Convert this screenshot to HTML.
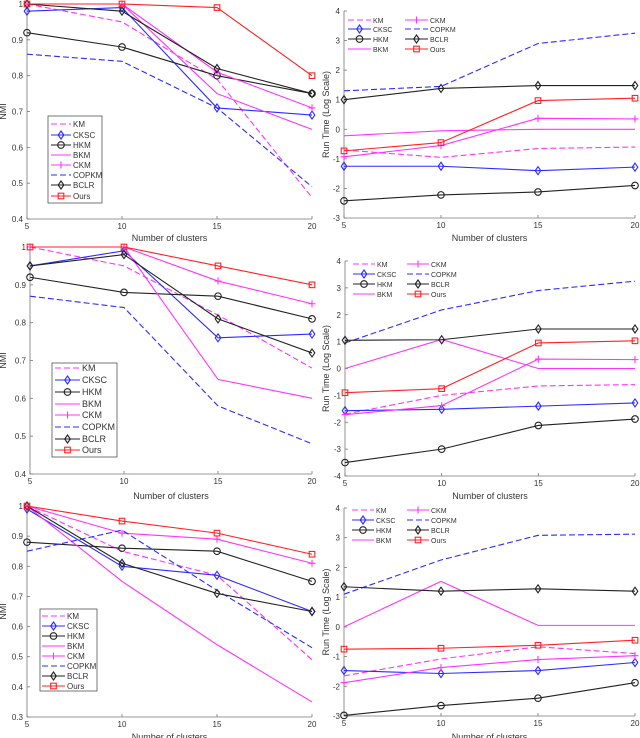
<!DOCTYPE html>
<html><head><meta charset="utf-8">
<style>
html,body{margin:0;padding:0;background:#fff;}
svg{display:block;font-family:"Liberation Sans",sans-serif;}
</style></head>
<body>
<svg id="fig" width="640" height="738" viewBox="0 0 640 738" xmlns="http://www.w3.org/2000/svg"></svg>
<script>
const methods = ["KM","CKSC","HKM","BKM","CKM","COPKM","BCLR","Ours"];
const xCats = [5,10,15,20];
// NMI values (rows follow methods order)
const nmiTop = [
 [1.0,0.95,0.79,0.46],[0.98,0.99,0.71,0.69],[0.92,0.88,0.80,0.75],[1.0,1.0,0.75,0.65],
 [1.0,1.0,0.81,0.71],[0.86,0.84,0.71,0.49],[1.0,0.98,0.82,0.75],[1.0,1.0,0.99,0.80]];
const timeTop = [
 [-0.7,-0.95,-0.65,-0.6],[-1.25,-1.25,-1.4,-1.28],[-2.42,-2.22,-2.12,-1.9],[-0.22,-0.05,0,0],
 [-0.93,-0.55,0.37,0.35],[1.3,1.45,2.9,3.25],[1.0,1.38,1.48,1.48],[-0.73,-0.45,0.97,1.05]];
const nmiMid = [
 [1.0,0.95,0.82,0.68],[0.95,0.99,0.76,0.77],[0.92,0.88,0.87,0.81],[1.0,1.0,0.65,0.60],
 [1.0,1.0,0.91,0.85],[0.87,0.84,0.58,0.48],[0.95,0.98,0.81,0.72],[1.0,1.0,0.95,0.90]];
const timeMid = [
 [-1.7,-1.0,-0.65,-0.6],[-1.57,-1.52,-1.4,-1.28],[-3.5,-3.0,-2.12,-1.88],[0,1.08,0,0],
 [-1.72,-1.38,0.35,0.33],[0.95,2.18,2.9,3.25],[1.05,1.07,1.47,1.47],[-0.9,-0.75,0.95,1.03]];
const nmiBot = [
 [1.0,0.85,0.77,0.49],[0.99,0.80,0.77,0.65],[0.88,0.86,0.85,0.75],[1.0,0.75,0.54,0.35],
 [1.0,0.91,0.89,0.81],[0.85,0.92,0.72,0.53],[1.0,0.81,0.71,0.65],[1.0,0.95,0.91,0.84]];
const timeBot = [
 [-1.65,-1.08,-0.67,-0.9],[-1.47,-1.57,-1.47,-1.2],[-2.98,-2.65,-2.4,-1.88],[0,1.53,0.05,0.05],
 [-1.88,-1.37,-1.1,-0.97],[1.1,2.25,3.08,3.12],[1.35,1.2,1.28,1.2],[-0.75,-0.72,-0.62,-0.45]];
const nmiTicksA = ["0.4","0.5","0.6","0.7","0.8","0.9","1"];
const nmiTicksE = ["0.3","0.4","0.5","0.6","0.7","0.8","0.9","1"];
const timeTicks3 = ["-3","-2","-1","0","1","2","3","4"];
const timeTicks4 = ["-4","-3","-2","-1","0","1","2","3","4"];

const MAG="#ff33ff", BLU="#2b2bff", BLK="#222", RED="#ff2222";
const styles = [
 {c:MAG,d:"6,3",m:null},{c:BLU,d:null,m:"diamond"},{c:BLK,d:null,m:"circle"},{c:MAG,d:null,m:null},
 {c:MAG,d:null,m:"plus"},{c:BLU,d:"6,3",m:null},{c:BLK,d:null,m:"diamond"},{c:RED,d:null,m:"square"}];

const NS="http://www.w3.org/2000/svg";
const svg=document.getElementById("fig");
function mk(tag,attrs,parent){const e=document.createElementNS(NS,tag);for(const k in attrs)e.setAttribute(k,attrs[k]);(parent||svg).appendChild(e);return e;}

function marker(g,type,x,y,c){
  let e;
  if(type==="circle") e=mk("circle",{cx:x,cy:y,r:3.3,fill:"none",stroke:c,"stroke-width":1.1},g);
  else if(type==="diamond") e=mk("polygon",{points:`${x},${y-4} ${x+2.8},${y} ${x},${y+4} ${x-2.8},${y}`,fill:"none",stroke:c,"stroke-width":1.1},g);
  else if(type==="square") e=mk("rect",{x:x-2.8,y:y-2.8,width:5.6,height:5.6,fill:"none",stroke:c,"stroke-width":1.1},g);
  else if(type==="plus") e=mk("path",{d:`M${x-3.5},${y}H${x+3.5}M${x},${y-3.5}V${y+3.5}`,stroke:c,"stroke-width":1.1},g);
  if(e){
  }
}

function panel(p){
  const g=mk("g",{});
  
  
  const xs=v=>p.x0+(v-5)/15*(p.x1-p.x0);
  const ys=v=>p.y0+(v-p.vmin)/(p.vmax-p.vmin)*(p.y1-p.y0);
  // axes
  const ax=mk("path",{d:`M${p.x0},${p.y1}V${p.y0}H${p.x1}`,fill:"none",stroke:"#777","stroke-width":0.8},g);
  
  
  p.ticks.forEach((t,i)=>{
    const v=p.vmin+i*(p.vmax-p.vmin)/(p.ticks.length-1);const y=ys(v);
    mk("line",{x1:p.x0,x2:p.x0+3,y1:y,y2:y,stroke:"#777","stroke-width":0.8},g);
    const tx=mk("text",{x:p.x0-4,y:y+3,"text-anchor":"end","font-size":8,fill:"#333"},g);
    tx.textContent=t;
    
    
  });
  xCats.forEach(c=>{
    const x=xs(c);
    mk("line",{x1:x,x2:x,y1:p.y0,y2:p.y0-3,stroke:"#777","stroke-width":0.8},g);
    const tx=mk("text",{x:x,y:p.y0+10,"text-anchor":"middle","font-size":8,fill:"#333"},g);
    tx.textContent=c;
    
    
  });
  const xl=mk("text",{x:(p.x0+p.x1)/2,y:p.xly,"text-anchor":"middle","font-size":9,fill:"#333"},g);
  xl.textContent="Number of clusters";
  
  
  const yl=mk("text",{x:0,y:0,"text-anchor":"middle","font-size":9,fill:"#333",transform:`translate(${p.ylx},${(p.y0+p.y1)/2}) rotate(-90)`},g);
  yl.textContent=p.ylabel;
  
  
  // series
  p.data.forEach((row,i)=>{
    const s=styles[i];
    const pts=row.map((v,j)=>`${xs(xCats[j])},${ys(v)}`).join(" ");
    const pl=mk("polyline",{points:pts,fill:"none",stroke:s.c,"stroke-width":1.1},g);
    if(s.d)pl.setAttribute("stroke-dasharray",s.d);
    
    
    if(s.m)row.forEach((v,j)=>marker(g,s.m,xs(xCats[j]),ys(v),s.c));
  });
  // legend
  const L=p.leg;
  if(L.box){const b=mk("rect",{x:L.box[0],y:L.box[1],width:L.box[2],height:L.box[3],fill:"#fff",stroke:"#555","stroke-width":0.8},g);
    
    }
  methods.forEach((m,i)=>{
    const s=styles[i];
    const lg=mk("g",{},g);
    
    
    let lx,ly;
    if(L.cols===1){lx=L.lx;ly=L.rows[i];}
    else{const col=[0,4].includes(i)||i<4&&false; // placeholder
      const order=[[0,0],[0,1],[0,2],[0,3],[1,0],[1,1],[1,2],[1,3]][i];
      lx=L.colx[order[0]];ly=L.rows[order[1]];}
    const ln=mk("line",{x1:lx,x2:lx+L.len,y1:ly,y2:ly,stroke:s.c,"stroke-width":1.1},lg);
    if(s.d)ln.setAttribute("stroke-dasharray",s.d);
    if(s.m)marker(lg,s.m,lx+L.len/2,ly,s.c);
    const t=mk("text",{x:lx+L.len+2,y:ly+3,"font-size":L.fs,fill:"#333"},lg);
    t.textContent=m;
  });
}

// right-panel legend order: col1 KM,CKSC,HKM,BKM ; col2 CKM,COPKM,BCLR,Ours
panel({name:"nmi-chart-top",x0:27,x1:312,y0:219,y1:4,vmin:0.4,vmax:1,ticks:nmiTicksA,data:nmiTop,ylabel:"NMI",ylx:6,xly:241,
  leg:{cols:1,box:[48,116,54,87],lx:51,len:20,fs:8,rows:[124,135,145,155,165,175,185,196]}});
panel({name:"runtime-chart-top",x0:344,x1:635,y0:218,y1:11,vmin:-3,vmax:4,ticks:timeTicks3,data:timeTop,ylabel:"Run Time (Log Scale)",ylx:329,xly:241,
  leg:{cols:2,colx:[348,405],len:23,fs:7,rows:[20,29,39,49]}});
panel({name:"nmi-chart-middle",x0:30,x1:312,y0:474,y1:247,vmin:0.4,vmax:1,ticks:nmiTicksA,data:nmiMid,ylabel:"NMI",ylx:6,xly:499,
  leg:{cols:1,box:[52,363,65,94],lx:55,len:25,fs:9,rows:[368,380,392,404,415,427,439,450]}});
panel({name:"runtime-chart-middle",x0:345,x1:635,y0:476,y1:261,vmin:-4,vmax:4,ticks:timeTicks4,data:timeMid,ylabel:"Run Time (Log Scale)",ylx:329,xly:499,
  leg:{cols:2,colx:[353,407],len:22,fs:7,rows:[264,274,284,294]}});
panel({name:"nmi-chart-bottom",x0:27,x1:312,y0:717,y1:506,vmin:0.3,vmax:1,ticks:nmiTicksE,data:nmiBot,ylabel:"NMI",ylx:6,xly:740,
  leg:{cols:1,box:[40,609,57,82],lx:42,len:23,fs:8,rows:[616,626,636,646,656,666,676,686]}});
panel({name:"runtime-chart-bottom",x0:344,x1:635,y0:716,y1:508,vmin:-3,vmax:4,ticks:timeTicks3,data:timeBot,ylabel:"Run Time (Log Scale)",ylx:329,xly:740,
  leg:{cols:2,colx:[352,407],len:22,fs:7,rows:[510,520,530,540]}});
</script>
</body></html>
